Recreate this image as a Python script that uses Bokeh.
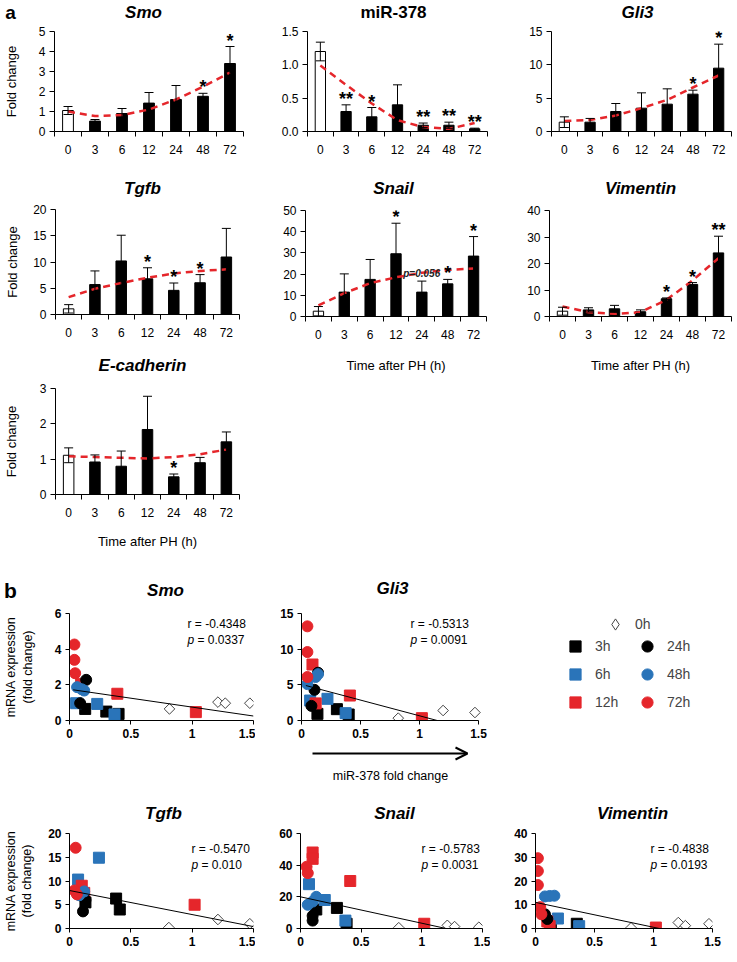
import math
from bokeh.plotting import figure
from bokeh.layouts import row, column
from bokeh.models import (Range1d, FixedTicker, Whisker, TeeHead, ColumnDataSource,
                          Label, Legend, LegendItem, Arrow, OpenHead, NumeralTickFormatter,
                          LinearAxis)
from bokeh.core.properties import value
from bokeh.embed import file_html
from bokeh.resources import INLINE

FONT = "Liberation Sans"
RED = "#E5262B"
BLUE = "#2A74B9"

# ---------------- panel a data ----------------
times = ["0", "3", "6", "12", "24", "48", "72"]

smo_mean = [1.05, 0.52, 0.90, 1.42, 1.60, 1.76, 3.40]
smo_sd = [0.20, 0.08, 0.25, 0.53, 0.70, 0.15, 0.85]
smo_sig = ["", "", "", "", "", "*", "*"]
smo_trend = [1.00, 0.77, 0.82, 1.10, 1.60, 2.24, 2.95]

mir_mean = [1.20, 0.30, 0.22, 0.40, 0.094, 0.094, 0.04]
mir_sd = [0.14, 0.10, 0.14, 0.30, 0.033, 0.046, 0.01]
mir_sig = ["", "**", "*", "", "**", "**", "**"]
mir_trend = [0.99, 0.70, 0.42, 0.17, 0.066, 0.04, 0.127]

gli_mean = [1.4, 1.4, 3.0, 3.5, 4.1, 5.6, 9.5]
gli_sd = [0.8, 0.56, 1.2, 2.3, 2.3, 0.6, 3.6]
gli_sig = ["", "", "", "", "", "*", "*"]
gli_trend = [1.58, 1.72, 2.4, 3.5, 4.75, 6.6, 8.4]

tgf_mean = [1.08, 5.7, 10.2, 6.8, 4.6, 6.05, 10.95]
tgf_sd = [0.8, 2.6, 4.9, 2.1, 1.4, 1.55, 5.45]
tgf_sig = ["", "", "", "*", "*", "*", ""]
tgf_trend = [3.3, 4.9, 6.0, 7.0, 7.8, 8.3, 8.6]

sna_mean = [2.5, 11.5, 17.5, 29.6, 11.5, 15.4, 28.5]
sna_sd = [2.2, 8.6, 9.4, 14.4, 5.2, 2.1, 9.2]
sna_sig = ["", "", "", "*", "", "*", "*"]
sna_trend = [5.2, 11.0, 15.7, 18.5, 20.6, 22.0, 22.6]

vim_mean = [2.0, 2.5, 2.9, 1.8, 6.7, 12.1, 24.0]
vim_sd = [1.5, 0.8, 1.3, 0.7, 0.3, 0.7, 6.3]
vim_sig = ["", "", "", "", "*", "*", "**"]
vim_trend = [3.8, 1.6, 1.0, 1.6, 6.3, 13.6, 22.0]

ecad_mean = [1.11, 0.92, 0.80, 1.84, 0.50, 0.90, 1.49]
ecad_sd = [0.21, 0.20, 0.43, 0.94, 0.08, 0.15, 0.28]
ecad_sig = ["", "", "", "", "*", "", ""]
ecad_trend = [1.08, 1.06, 1.04, 1.02, 1.06, 1.14, 1.27]

# ---------------- panel b data: (miR-378 fold change, mRNA fold change) ----------------
groups = ["0h", "3h", "6h", "12h", "24h", "48h", "72h"]

smo_0h = [(0.815, 0.65), (1.21, 1.03), (1.27, 0.97), (1.47, 0.97)]
smo_3h = [(0.128, 0.65), (0.30, 0.50), (0.40, 0.37)]
smo_6h = [(0.054, 0.97), (0.226, 0.93), (0.367, 0.34)]
smo_12h = [(0.095, 2.06), (0.39, 1.50), (1.03, 0.47)]
smo_24h = [(0.136, 2.28), (0.087, 0.97)]
smo_48h = [(0.062, 1.87), (0.10, 1.75), (0.12, 1.68)]
smo_72h = [(0.040, 4.26), (0.040, 3.40), (0.046, 2.65)]
smo_fit_x = [0.03, 1.5]
smo_fit_y = [1.72, 0.25]

gli_0h = [(0.82, 0.33), (1.20, 1.40), (1.47, 1.12)]
gli_3h = [(0.135, 0.93), (0.30, 1.59), (0.40, 0.84)]
gli_6h = [(0.073, 2.8), (0.22, 3.04), (0.374, 1.03)]
gli_12h = [(0.093, 7.85), (0.12, 2.4), (0.41, 3.5), (1.02, 0.33)]
gli_24h = [(0.14, 6.7), (0.11, 4.3), (0.084, 2.05)]
gli_48h = [(0.05, 5.1), (0.12, 6.1), (0.14, 6.5)]
gli_72h = [(0.05, 13.2), (0.05, 9.6), (0.05, 6.1)]
gli_fit_x = [0.037, 1.15]
gli_fit_y = [4.9, 0.0]

tgf_0h = [(0.81, 0.2), (1.21, 1.9), (1.47, 1.0)]
tgf_3h = [(0.13, 5.5), (0.38, 6.3), (0.41, 4.0)]
tgf_6h = [(0.07, 10.3), (0.24, 14.9), (0.09, 7.5)]
tgf_12h = [(0.10, 9.0), (0.12, 7.5), (1.02, 5.0)]
tgf_24h = [(0.11, 3.6), (0.13, 6.0)]
tgf_48h = [(0.08, 7.0), (0.12, 7.8)]
tgf_72h = [(0.05, 17.0), (0.04, 8.0), (0.06, 7.2)]
tgf_fit_x = [0.0, 1.5]
tgf_fit_y = [8.0, 0.4]

sna_0h = [(0.81, 0.5), (1.21, 2.0), (1.27, 1.2), (1.47, 0.8)]
sna_3h = [(0.13, 12), (0.30, 13), (0.38, 3)]
sna_6h = [(0.07, 28), (0.20, 18), (0.37, 5)]
sna_12h = [(0.10, 48), (0.10, 44), (0.41, 30), (1.02, 3)]
sna_24h = [(0.10, 5), (0.10, 8)]
sna_48h = [(0.06, 15), (0.10, 17), (0.13, 20)]
sna_72h = [(0.05, 39), (0.06, 35)]
sna_fit_x = [0.0, 1.2]
sna_fit_y = [20.0, 0.0]

vim_0h = [(0.81, 0.3), (1.21, 2.5), (1.27, 1.2), (1.47, 2.0)]
vim_3h = [(0.13, 2.0), (0.35, 2.0)]
vim_6h = [(0.19, 4.2), (0.37, 1.0)]
vim_12h = [(0.10, 3.0), (0.12, 1.0), (1.02, 0.4)]
vim_24h = [(0.08, 6.0), (0.10, 4.0)]
vim_48h = [(0.08, 13.5), (0.12, 13.7), (0.16, 13.8)]
vim_72h = [(0.02, 29.6), (0.02, 24.2), (0.02, 18.3), (0.04, 9), (0.05, 6)]
vim_fit_x = [0.0, 1.05]
vim_fit_y = [11.0, 0.0]

STY = {
    "0h": dict(marker="square", angle=math.pi / 4, size=7.5, fill_color="white", line_color="#444444"),
    "3h": dict(marker="square", angle=0, size=11, fill_color="black", line_color="black"),
    "6h": dict(marker="square", angle=0, size=11, fill_color=BLUE, line_color=BLUE),
    "12h": dict(marker="square", angle=0, size=11, fill_color=RED, line_color=RED),
    "24h": dict(marker="circle", angle=0, size=11, fill_color="black", line_color="black"),
    "48h": dict(marker="circle", angle=0, size=11, fill_color=BLUE, line_color=BLUE),
    "72h": dict(marker="circle", angle=0, size=11, fill_color=RED, line_color=RED),
}


def base_fig(W, H, bl, br, bt, bb, xr, yr, axes=True):
    kw = {} if axes else dict(x_axis_type=None, y_axis_type=None)
    p = figure(width=W, height=H, x_range=xr, y_range=yr, output_backend="svg",
               toolbar_location=None, title=None, min_border_left=bl, min_border_right=br,
               min_border_top=bt, min_border_bottom=bb, **kw)
    p.outline_line_color = None
    p.background_fill_color = "white"
    p.border_fill_color = "white"
    if axes:
        p.grid.visible = False
    return p


def add_text(p, txt, x, y, size, style="normal", align="center", baseline="middle", angle=0.0):
    p.add_layout(Label(x=x, y=y, x_units="screen", y_units="screen", text=txt,
                       text_font=FONT, text_font_size=size, text_font_style=style,
                       text_align=align, text_baseline=baseline, angle=angle,
                       text_color="black"))


def band(W, H, items):
    """A text strip: items are (text, x_center, y_center_from_bottom, size, style)."""
    p = base_fig(W, H, 0, 0, 0, 0, Range1d(0, W), Range1d(0, H), axes=False)
    for txt, x, y, size, style in items:
        add_text(p, txt, x, y, size, style)
    return p


def style_axis(ax, size, bold=False):
    ax.axis_line_color = "black"
    ax.axis_line_width = 1
    ax.major_tick_line_color = "black"
    ax.major_label_text_font = FONT
    ax.major_label_text_font_size = size
    ax.major_label_text_color = "black"
    ax.major_label_text_font_style = "bold" if bold else "normal"
    ax.minor_tick_line_color = None
    ax.axis_label_text_font = FONT
    ax.axis_label_text_font_style = "normal"
    ax.axis_label_text_color = "black"


def bar_panel(geom, mean, sd, sig, trend, ymax, yticks, fold=None, xlab=None, fmt=None):
    W, H, bl, br, bt, bb = geom
    p = base_fig(W, H, bl, br, bt, bb, Range1d(-0.5, 6.5), Range1d(0, ymax))
    idx = list(range(len(times)))
    fills = ["white"] + ["black"] * (len(times) - 1)
    hi = [m + s for m, s in zip(mean, sd)]
    lo = [m - s for m, s in zip(mean, sd)]
    src = ColumnDataSource(dict(x=idx, top=mean, fc=fills, hi=hi, lo=lo, sig=sig))
    p.vbar(x="x", top="top", width=0.4, fill_color="fc", line_color="black",
           line_width=1, source=src)
    p.add_layout(Whisker(source=src, base="x", upper="hi", lower="lo", line_color="black",
                         line_width=1, level="annotation",
                         upper_head=TeeHead(size=9, line_color="black", line_width=1),
                         lower_head=TeeHead(size=9, line_color="black", line_width=1)))
    p.line(idx, trend, line_color=RED, line_width=2.5, line_dash="7 5")
    p.text(x="x", y="hi", text="sig", source=src, text_align="center",
           text_baseline="middle", y_offset=-6, text_font=value(FONT),
           text_font_size="18px", text_font_style="bold", text_color="black")
    xa = p.xaxis[0]
    style_axis(xa, "12px")
    xa.ticker = FixedTicker(ticks=idx, minor_ticks=[i - 0.5 for i in range(len(times) + 1)])
    xa.major_label_overrides = {i: t for i, t in enumerate(times)}
    xa.major_tick_line_color = None
    xa.major_tick_out = 0
    xa.major_tick_in = 0
    xa.minor_tick_line_color = "black"
    xa.minor_tick_out = 5
    xa.minor_tick_in = 0
    xa.major_label_standoff = 8
    ya = p.yaxis[0]
    style_axis(ya, "12px")
    ya.ticker = FixedTicker(ticks=yticks)
    ya.major_tick_out = 5
    ya.major_tick_in = 0
    ya.major_label_standoff = 4
    if fmt:
        ya.formatter = NumeralTickFormatter(format=fmt)
    if fold is not None:
        ya.axis_label = "Fold change"
        ya.axis_label_text_font_size = "13px"
        ya.axis_label_standoff = fold
    if xlab is not None:
        xa.axis_label = "Time after PH (h)"
        xa.axis_label_text_font_size = "13px"
        xa.axis_label_standoff = xlab
    return p


def scatter_panel(geom, pts, fit_x, fit_y, ymax, yticks, r_txt, p_txt, rpos, ylab=None,
                  xmax=1.5):
    W, H, bl, br, bt, bb = geom
    p = base_fig(W, H, bl, br, bt, bb, Range1d(0, xmax), Range1d(0, ymax))
    rends = {}
    for g, data in zip(groups, pts):
        s = STY[g]
        rends[g] = p.scatter(x=[d[0] for d in data], y=[d[1] for d in data],
                             marker=s["marker"], angle=s["angle"], size=s["size"],
                             fill_color=s["fill_color"], line_color=s["line_color"],
                             line_width=1)
    p.line(fit_x, fit_y, line_color="black", line_width=1)
    xa = p.xaxis[0]
    style_axis(xa, "12px", bold=True)
    xa.ticker = FixedTicker(ticks=[0, 0.5, 1, 1.5])
    xa.major_label_overrides = {0: "0", 0.5: "0.5", 1: "1", 1.5: "1.5"}
    xa.major_tick_out = 4
    xa.major_tick_in = 0
    xa.major_label_standoff = 4
    xa.bounds = (0, 1.5)
    ya = p.yaxis[0]
    style_axis(ya, "12px", bold=True)
    ya.ticker = FixedTicker(ticks=yticks)
    ya.major_tick_out = 4
    ya.major_tick_in = 0
    ya.major_label_standoff = 4
    add_text(p, "r = " + r_txt, rpos[0], rpos[1], "12px", align="left")
    add_text(p, "p", rpos[0], rpos[1] - 16, "12px", style="italic", align="left")
    add_text(p, "= " + p_txt, rpos[0] + 10, rpos[1] - 16, "12px", align="left")
    if ylab is not None:
        ya.axis_label = "(fold change)"
        ya.axis_label_text_font_size = "12.5px"
        ya.axis_label_standoff = ylab
        ex = LinearAxis(ticker=FixedTicker(ticks=[]), axis_label="mRNA expression")
        style_axis(ex, "12px")
        ex.axis_line_color = None
        ex.major_tick_line_color = None
        ex.major_tick_out = 0
        ex.major_tick_in = 0
        ex.major_label_standoff = 0
        ex.axis_label_standoff = 0
        ex.axis_label_text_font_size = "12.5px"
        p.add_layout(ex, "left")
    return p, rends


# ---------------- panel a ----------------
band_a1 = band(736, 23, [("a", 10, 11, "19px", "bold"), ("Smo", 143, 11, "17px", "bold italic"),
                         ("miR-378", 393, 11, "17px", "bold"),
                         ("Gli3", 637, 11, "17px", "bold italic")])
smo = bar_panel((255, 153, 52, 12, 6, 45), smo_mean, smo_sd, smo_sig, smo_trend, 5,
                [0, 1, 2, 3, 4, 5], fold=17)
mir = bar_panel((245, 153, 52, 13, 8, 39), mir_mean, mir_sd, mir_sig, mir_trend, 1.5,
                [0, 0.5, 1.0, 1.5], fmt="0.0")
gli = bar_panel((236, 153, 51, 5, 6, 42), gli_mean, gli_sd, gli_sig, gli_trend, 15,
                [0, 5, 10, 15])
band_a2 = band(736, 24, [("Tgfb", 142, 12, "17px", "bold italic"),
                         ("Snail", 393, 12, "17px", "bold italic"),
                         ("Vimentin", 640, 12, "17px", "bold italic")])
tgf = bar_panel((255, 152, 51, 16, 9, 38), tgf_mean, tgf_sd, tgf_sig, tgf_trend, 20,
                [0, 5, 10, 15, 20], fold=10)
# this strip sits in a column with frame-aligned plots, so x is measured from the axis
band_e = band(255, 28, [("E-cadherin", 87, 15, "17px", "bold italic")])
ecad = bar_panel((255, 180, 51, 16, 8, 66), ecad_mean, ecad_sd, ecad_sig, ecad_trend, 3,
                 [0, 1, 2, 3], fold=18, xlab=14)
sna = bar_panel((245, 180, 50, 14, 10, 64), sna_mean, sna_sd, sna_sig, sna_trend, 50,
                [0, 10, 20, 30, 40, 50], xlab=16)
sna.add_layout(Label(x=3.28, y=20.1, text="p=0.056", text_font=FONT, text_font_size="10px",
                     text_font_style="bold italic", text_align="left", text_baseline="middle",
                     text_color="#222222"))
vim = bar_panel((236, 180, 49, 5, 10, 64), vim_mean, vim_sd, vim_sig, vim_trend, 40,
                [0, 10, 20, 30, 40], xlab=16)

panel_a = column(band_a1, row(smo, mir, gli, spacing=0), band_a2,
                 row(column(tgf, band_e, ecad, spacing=0), sna, vim, spacing=0), spacing=0)

# ---------------- panel b ----------------
band_b1 = band(736, 46, [("b", 10, 16, "21px", "bold"), ("Smo", 165, 16, "17px", "bold italic"),
                         ("Gli3", 392, 18, "17px", "bold italic")])
smo_b, _ = scatter_panel((255, 184, 68, 2, 7, 70),
                         [smo_0h, smo_3h, smo_6h, smo_12h, smo_24h, smo_48h, smo_72h],
                         smo_fit_x, smo_fit_y, 6, [0, 2, 4, 6],
                         "-0.4348", "0.0337", (118, 97), ylab=17)
# Gli3 panel: its frame also carries the legend area to the right of the axis
gli_b, gr = scatter_panel((481, 139, 46, 2, 7, 25),
                          [gli_0h, gli_3h, gli_6h, gli_12h, gli_24h, gli_48h, gli_72h],
                          gli_fit_x, gli_fit_y, 15, [0, 5, 10, 15],
                          "-0.5313", "0.0091", (109, 97), xmax=1.5 * 433 / 177)
# legend key for the 0h group: an open diamond (zero size in the plot itself)
r0_key = gli_b.scatter(x=[d[0] for d in gli_0h], y=[d[1] for d in gli_0h], marker="diamond",
                       size=0, fill_color="white", line_color="#444444", line_width=1)
leg0 = Legend(items=[LegendItem(label="0h", renderers=[r0_key])], location=(300, 82),
              glyph_width=28, glyph_height=28, label_standoff=6, padding=0, margin=0,
              border_line_color=None, background_fill_alpha=0, label_width=20,
              label_text_font=FONT, label_text_font_size="14px")
leg6 = Legend(items=[LegendItem(label=g, renderers=[gr[g]]) for g in groups[1:]],
              location=(260, 4), ncols=2, glyph_width=28, glyph_height=28, label_standoff=6,
              spacing=-2, label_width=38, padding=0, margin=0, border_line_color=None,
              background_fill_alpha=0, label_text_font=FONT, label_text_font_size="14px")
gli_b.add_layout(leg0)
gli_b.add_layout(leg6)

# strip under the Gli3 panel (frame-aligned with it, so x is measured from its y axis)
band_arrow = base_fig(481, 45, 0, 0, 0, 0, Range1d(0, 481), Range1d(0, 45), axes=False)
band_arrow.add_layout(Arrow(end=OpenHead(size=12, line_width=2, line_color="black"),
                            x_start=11, y_start=37, x_end=166, y_end=37,
                            start_units="screen", end_units="screen",
                            line_width=2, line_color="black"))
add_text(band_arrow, "miR-378 fold change", 89, 15, "12.5px")

band_b2 = band(736, 36, [("Tgfb", 163, 13, "17px", "bold italic"),
                         ("Snail", 394, 13, "17px", "bold italic"),
                         ("Vimentin", 632, 13, "17px", "bold italic")])
tgf_b, _ = scatter_panel((255, 134, 68, 2, 7, 32),
                         [tgf_0h, tgf_3h, tgf_6h, tgf_12h, tgf_24h, tgf_48h, tgf_72h],
                         tgf_fit_x, tgf_fit_y, 20, [0, 5, 10, 15, 20],
                         "-0.5470", "0.010", (122, 80), ylab=11)
sna_b, _ = scatter_panel((235, 134, 45, 8, 7, 32),
                         [sna_0h, sna_3h, sna_6h, sna_12h, sna_24h, sna_48h, sna_72h],
                         sna_fit_x, sna_fit_y, 60, [0, 20, 40, 60],
                         "-0.5783", "0.0031", (121, 80))
vim_b, _ = scatter_panel((246, 134, 45, 24, 7, 32),
                         [vim_0h, vim_3h, vim_6h, vim_12h, vim_24h, vim_48h, vim_72h],
                         vim_fit_x, vim_fit_y, 40, [0, 10, 20, 30, 40],
                         "-0.4838", "0.0193", (115, 80))

panel_b = column(band_b1, row(smo_b, column(gli_b, band_arrow, spacing=0), spacing=0),
                 band_b2, row(tgf_b, sna_b, vim_b, spacing=0), spacing=0)
page = column(panel_a, panel_b, spacing=0)

open("out.html", "w").write(file_html(page, INLINE))
